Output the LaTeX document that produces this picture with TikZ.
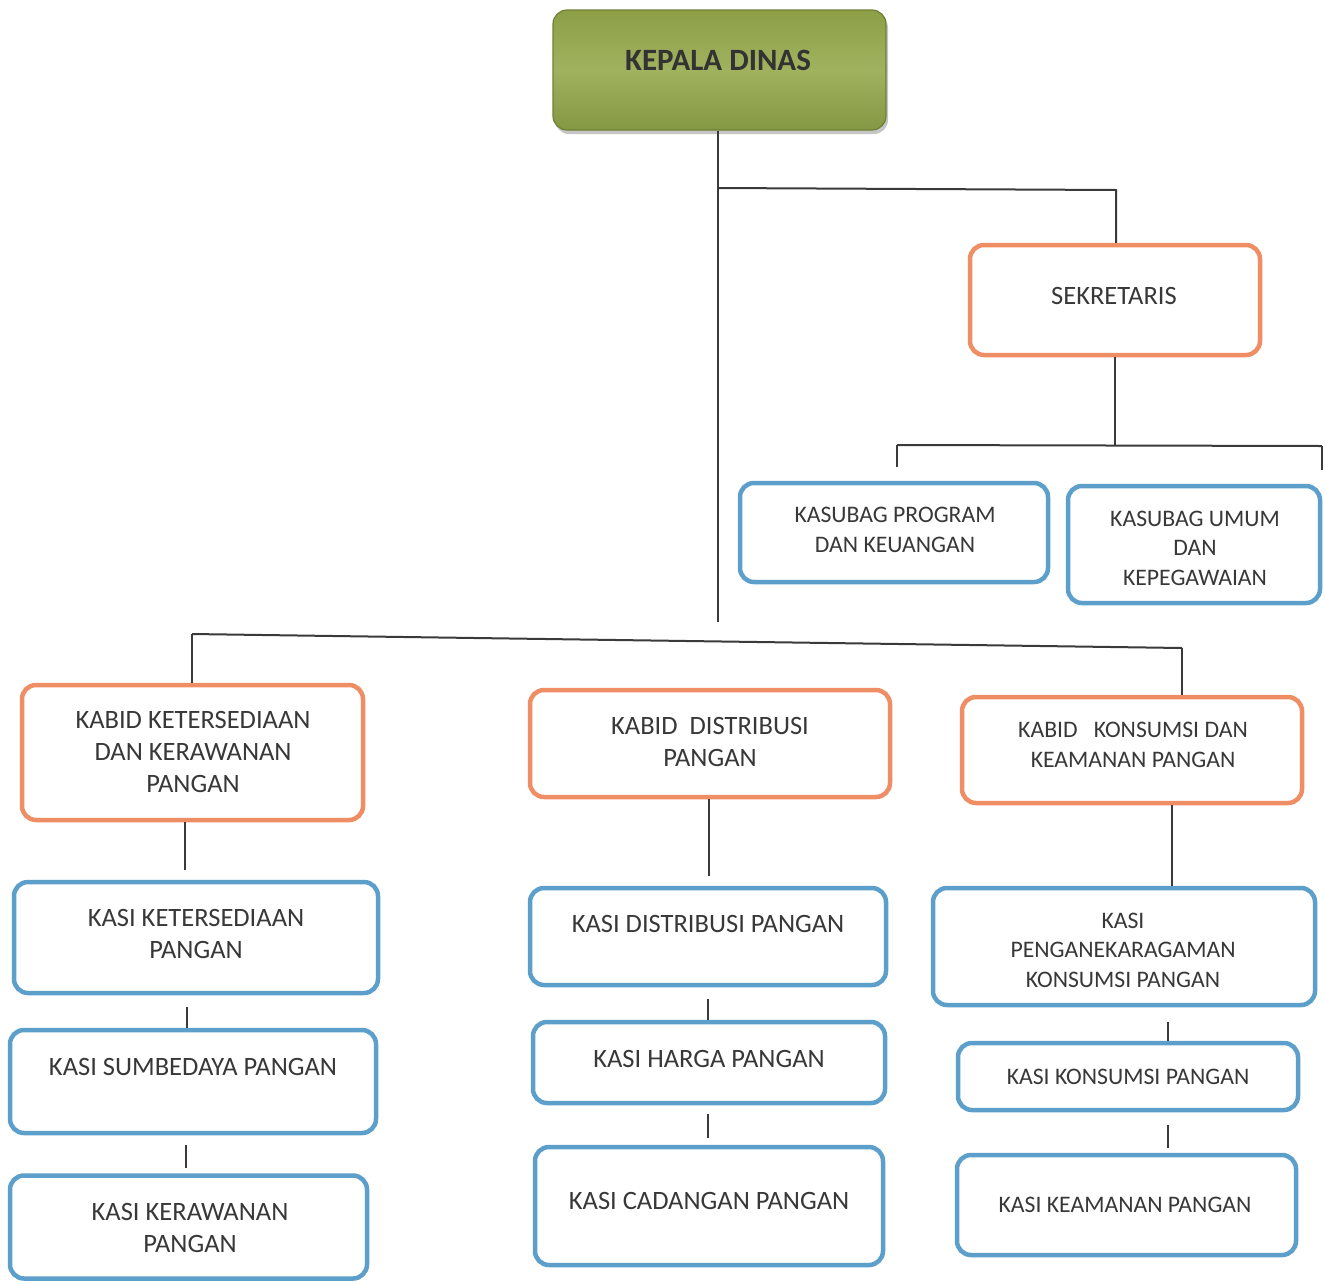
\documentclass[tikz,border=0pt]{standalone}
\usepackage{fontspec}
\setmainfont{Carlito}
\usetikzlibrary{shadows}
\definecolor{orbox}{HTML}{EF8D64}
\definecolor{blbox}{HTML}{5C9FCB}
\definecolor{txtc}{HTML}{383838}
\definecolor{lnc}{HTML}{3A3A3A}
\definecolor{gtop}{HTML}{8C9F47}
\definecolor{gmid}{HTML}{A1B25E}
\definecolor{gbot}{HTML}{849742}
\definecolor{gedge}{HTML}{6F8036}
\tikzset{
  boxbase/.style={rectangle, rounded corners=14pt, line width=4.5pt, inner sep=0pt},
  orangebox/.style={boxbase, draw=orbox, fill=white},
  bluebox/.style={boxbase, draw=blbox, fill=white},
  headbox/.style={rectangle, rounded corners=14pt, draw=gedge, line width=1.2pt,
    top color=gtop, bottom color=gbot, middle color=gmid,
    drop shadow={shadow xshift=2pt, shadow yshift=-4pt, opacity=0.45}},
  lbl/.style={align=center, text=txtc, inner sep=0pt},
  big/.style={lbl, font=\fontsize{26.5}{32}\selectfont},
  small/.style={lbl, font=\fontsize{23.7}{29.5}\selectfont},
  conn/.style={draw=lnc, line width=2pt}
}
\begin{document}
\begin{tikzpicture}[x=1pt,y=-1pt]
\useasboundingbox (0,0) rectangle (1325,1283);
\fill[white] (0,0) rectangle (1325,1283);

% boxes
\node[headbox, minimum width=333pt, minimum height=120pt] (kd) at (719.5,70) {};
\node[orangebox, minimum width=290pt, minimum height=110pt] (sek) at (1115,300) {};
\node[bluebox, minimum width=308pt, minimum height=99pt] (ksp) at (894,532.5) {};
\node[bluebox, minimum width=252pt, minimum height=117pt] (ksu) at (1194,544.5) {};
\node[orangebox, minimum width=341pt, minimum height=135pt] (kb1) at (192.5,752.5) {};
\node[orangebox, minimum width=360pt, minimum height=107pt] (kb2) at (710,743.5) {};
\node[orangebox, minimum width=340pt, minimum height=106pt] (kb3) at (1132,750) {};
\node[bluebox, minimum width=364pt, minimum height=111pt] (k11) at (196,937.5) {};
\node[bluebox, minimum width=366pt, minimum height=103pt] (k12) at (193,1081.5) {};
\node[bluebox, minimum width=357pt, minimum height=103pt] (k13) at (188.5,1227) {};
\node[bluebox, minimum width=356pt, minimum height=97pt] (k21) at (708,936.5) {};
\node[bluebox, minimum width=352pt, minimum height=81pt] (k22) at (709,1062.5) {};
\node[bluebox, minimum width=348pt, minimum height=118pt] (k23) at (709,1206) {};
\node[bluebox, minimum width=382pt, minimum height=117pt] (k31) at (1124,946.5) {};
\node[bluebox, minimum width=340pt, minimum height=67pt] (k32) at (1128,1076.5) {};
\node[bluebox, minimum width=339pt, minimum height=100pt] (k33) at (1126.5,1205) {};

% texts
\node[lbl, font=\fontsize{31}{36}\selectfont\bfseries, text=black!80] (kdt) at (718,60) {KEPALA DINAS};
\node[big] (sekt) at (1114,296) {SEKRETARIS};
\node[small] (kspt) at (895,530) {KASUBAG PROGRAM\\DAN KEUANGAN};
\node[small] (ksut) at (1195,548) {KASUBAG UMUM\\DAN\\KEPEGAWAIAN};
\node[big] (kb1t) at (193,752) {KABID KETERSEDIAAN\\DAN KERAWANAN\\PANGAN};
\node[big] (kb2t) at (710,742) {KABID\ \ DISTRIBUSI\\PANGAN};
\node[small] (kb3t) at (1133,745) {KABID\ \ \ KONSUMSI DAN\\KEAMANAN PANGAN};
\node[big] (k11t) at (196,934) {KASI KETERSEDIAAN\\PANGAN};
\node[big] (k12t) at (193,1067) {KASI SUMBEDAYA PANGAN};
\node[big] (k13t) at (190,1228) {KASI KERAWANAN\\PANGAN};
\node[big] (k21t) at (708,924) {KASI DISTRIBUSI PANGAN};
\node[big] (k22t) at (709,1059) {KASI HARGA PANGAN};
\node[big] (k23t) at (709,1201) {KASI CADANGAN PANGAN};
\node[small] (k31t) at (1123,950) {KASI\\PENGANEKARAGAMAN\\KONSUMSI PANGAN};
\node[small] (k32t) at (1128,1077) {KASI KONSUMSI PANGAN};
\node[small] (k33t) at (1125,1205) {KASI KEAMANAN PANGAN};

% connectors
\coordinate (trunkend) at (718,622);
\coordinate (j1) at (718,188);
\coordinate (j1r) at (1116,190);
\draw[conn] (kd.south -| 718,0) -- (trunkend);
\draw[conn] (j1) -- (j1r) -- (sek.north -| j1r);
\coordinate (j2) at (1115,445);
\draw[conn] (sek.south -| j2) -- (j2);
\draw[conn] (897,445) coordinate (j2l) -- (1322,446) coordinate (j2r);
\draw[conn, shorten >=14pt] (j2l) -- (ksp.north -| j2l);
\draw[conn, shorten >=14pt] (j2r) -- (ksu.north -| j2r);
\coordinate (hb1) at (192,634);
\coordinate (hb3) at (1182,648);
\draw[conn] (hb1) -- (hb3);
\draw[conn] (hb1) -- (kb1.north -| hb1);
\draw[conn] (hb3) -- (kb3.north -| hb3);
\draw[conn, shorten >=10pt] (kb1.south -| 185,0) -- (k11.north -| 185,0);
\draw[conn, shorten >=10pt] (kb2.south -| 709,0) -- (k21.north -| 709,0);
\draw[conn] (kb3.south -| 1172,0) -- (k31.north -| 1172,0);
\draw[conn, shorten <=12pt] (k11.south -| 187,0) -- (k12.north -| 187,0);
\draw[conn, shorten <=10pt, shorten >=5pt] (k12.south -| 186,0) -- (k13.north -| 186,0);
\draw[conn, shorten <=12pt] (k21.south -| 708,0) -- (k22.north -| 708,0);
\draw[conn, shorten <=9pt, shorten >=7pt] (k22.south -| 708,0) -- (k23.north -| 708,0);
\draw[conn, shorten <=15pt] (k31.south -| 1168,0) -- (k32.north -| 1168,0);
\draw[conn, shorten <=13pt, shorten >=5pt] (k32.south -| 1168,0) -- (k33.north -| 1168,0);
\end{tikzpicture}
\end{document}
